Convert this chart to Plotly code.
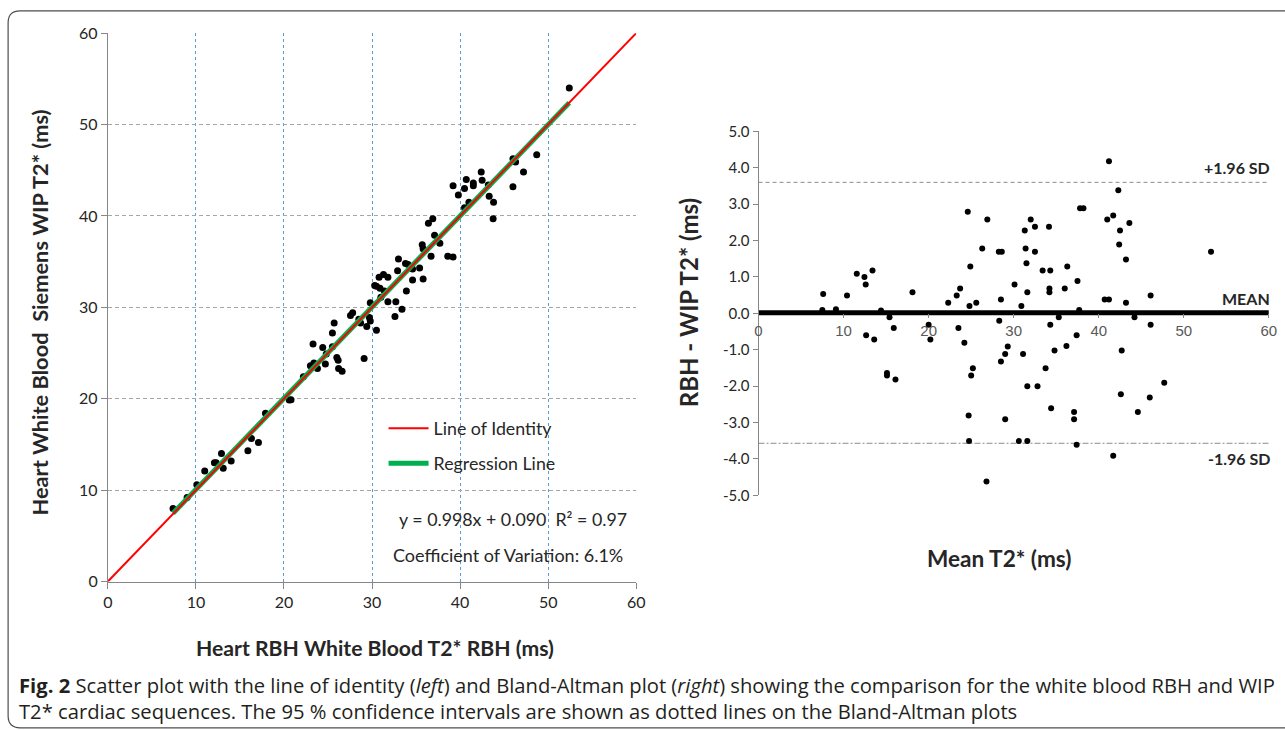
import plotly.graph_objects as go

# ---------------- data ----------------
# Left: scatter of RBH (x) vs WIP (y) T2* values (ms)
left_x = [7.4, 9.0, 10.1, 11.0, 12.1, 12.3, 12.9, 13.1, 14.0, 15.9, 16.3, 17.1, 17.9,
          20.6, 20.8, 22.2, 23.3, 23.0, 23.4, 23.8, 24.4, 24.7, 24.8, 25.5, 25.5, 25.7,
          26.0, 26.15, 26.2, 26.6, 27.55, 27.8, 28.5, 28.7, 29.1, 29.4, 29.7, 29.8, 29.8,
          30.5, 30.3, 30.5, 30.9, 30.8, 31.3, 31.8, 31.0, 31.4, 31.8, 32.6, 32.7, 32.9,
          33.0, 33.4, 33.8, 34.1, 33.9, 34.6, 34.6, 35.4, 35.8, 35.7, 35.8, 36.7, 36.4,
          36.9, 37.1, 37.7, 38.6, 39.2, 39.2, 39.8, 40.5, 41.0, 40.5, 40.7, 41.5, 41.5,
          42.4, 42.5, 43.2, 43.3, 43.8, 43.75, 46.0, 46.3, 46.0, 47.2, 48.7, 52.4]
left_y = [8.0, 9.2, 10.6, 12.1, 13.0, 13.0, 14.0, 12.4, 13.2, 14.3, 15.65, 15.2, 18.4,
          19.85, 19.9, 22.4, 26.0, 23.6, 23.9, 23.3, 25.6, 23.8, 24.9, 25.7, 27.2, 28.3,
          24.5, 24.2, 23.3, 23.0, 29.1, 29.4, 28.7, 28.3, 24.4, 27.9, 28.9, 28.5, 30.5,
          27.5, 32.4, 32.3, 32.1, 33.3, 33.6, 33.3, 31.1, 31.8, 30.6, 29.0, 30.6, 34.0,
          35.3, 29.8, 34.8, 34.7, 31.8, 33.0, 34.2, 34.3, 33.1, 36.85, 36.4, 35.6, 39.2,
          39.7, 37.9, 37.0, 35.6, 35.5, 43.3, 42.3, 40.9, 41.5, 43.0, 44.0, 43.6, 43.3,
          44.8, 43.9, 43.4, 42.15, 41.5, 39.7, 46.25, 45.9, 43.2, 44.8, 46.7, 54.0]

# regression line (from the stated equation) and identity line
reg_slope = 0.998
reg_intercept = 0.090
reg_x = [7.4, 52.4]
identity_xy = [0, 60]

# Right: Bland-Altman (mean vs difference RBH - WIP)
ba_mean = [7.6, 7.5, 9.1, 10.4, 11.55, 12.45, 12.6, 13.4, 14.4, 18.1, 22.3, 23.3, 23.7,
           24.6, 24.9, 24.8, 25.6, 26.3, 26.9, 28.25, 28.6, 28.5, 30.1, 30.9, 31.3, 31.4,
           31.5, 31.6, 32.0, 32.5, 32.5, 33.4, 34.3, 34.15, 34.2, 34.2, 36.0, 36.3, 37.5,
           37.7, 37.8, 38.2, 40.7, 41.2, 41.0, 41.2, 41.7, 42.3, 42.5, 42.4, 43.6, 43.2,
           43.2, 46.1, 53.2,
           15.4, 15.9, 12.65, 13.6, 15.1, 15.1, 16.1, 20.0, 20.2, 23.5, 24.2, 25.2, 25.0,
           24.7, 24.75, 26.8, 28.3, 28.5, 29.0, 29.3, 29.0, 31.1, 31.6, 32.8, 30.6, 31.6,
           33.75, 34.3, 34.8, 34.4, 35.3, 36.2, 37.4, 37.1, 37.1, 37.4, 42.7, 42.6, 41.7,
           44.2, 44.6, 46.1, 46.0, 47.7]
ba_diff = [0.53, 0.09, 0.11, 0.49, 1.09, 1.0, 0.79, 1.18, 0.08, 0.58, 0.29, 0.49, 0.68,
           2.79, 1.29, 0.2, 0.29, 1.78, 2.58, 1.69, 1.69, 0.38, 0.79, 0.2, 2.28, 1.78,
           1.38, 0.58, 2.58, 2.38, 1.69, 1.18, 1.18, 2.38, 0.68, 0.58, 0.68, 1.29, 0.89,
           0.09, 2.89, 2.89, 0.38, 0.38, 2.58, 4.18, 2.69, 3.38, 2.28, 1.89, 2.48, 1.48,
           0.29, 0.49, 1.69,
           -0.11, -0.4, -0.6, -0.72, -1.64, -1.71, -1.82, -0.31, -0.72, -0.4, -0.81, -1.51, -1.71,
           -2.81, -3.51, -4.62, -0.2, -1.32, -1.12, -0.91, -2.91, -1.12, -2.0, -2.0, -3.51, -3.51,
           -1.51, -0.31, -1.02, -2.61, -0.11, -0.9, -0.6, -2.71, -2.91, -3.61, -1.02, -2.22, -3.91,
           -0.11, -2.71, -0.31, -2.31, -1.91]
ba_mean_diff = 0.02
ba_upper = 3.6
ba_lower = -3.57
ba_line_x = [0, 60]

left_ticks = [0, 10, 20, 30, 40, 50, 60]
ba_x_ticks = [0, 10, 20, 30, 40, 50, 60]
ba_y_ticks = [-5, -4, -3, -2, -1, 0, 1, 2, 3, 4, 5]
ba_y_ticktext = ["-5.0", "-4.0", "-3.0", "-2.0", "-1.0", "0.0", "1.0", "2.0", "3.0", "4.0", "5.0"]

caption = ("<b>Fig. 2</b> Scatter plot with the line of identity (<i>left</i>) and Bland-Altman plot "
           "(<i>right</i>) showing the comparison for the white blood RBH and WIP<br>"
           "T2* cardiac sequences. The 95 % confidence intervals are shown as dotted lines "
           "on the Bland-Altman plots")

# ---------------- layout helpers ----------------
# positions below are given in picture pixels; the photographed page maps as
# picture = S * page + O, so convert back before turning them into paper fractions
SX, OX = 0.9867, 5.4
SY, OY = 0.9726, 9.9
FW, FH = 1302, 761
def px(p):
    return ((p - OX) / SX) / FW
def py(p):
    return 1 - ((p - OY) / SY) / FH

CAL = "Lato, Carlito, 'Liberation Sans', sans-serif"
ARIAL = "'Liberation Sans', Arial, sans-serif"
CAP = "'Open Sans', 'Noto Sans', sans-serif"

fig = go.Figure()

# left scatter points
fig.add_trace(go.Scatter(x=left_x, y=left_y, mode="markers",
                         marker=dict(color="black", size=7), showlegend=False,
                         xaxis="x", yaxis="y", hoverinfo="skip"))
# regression line
fig.add_trace(go.Scatter(x=reg_x, y=[reg_slope * v + reg_intercept for v in reg_x],
                         mode="lines", line=dict(color="#00b050", width=5),
                         name="Regression Line", legendgroup="b", legendrank=2,
                         xaxis="x", yaxis="y"))
# identity line
fig.add_trace(go.Scatter(x=identity_xy, y=identity_xy, mode="lines",
                         line=dict(color="#ff0000", width=2),
                         name="Line of Identity", legendgroup="a", legendrank=1,
                         xaxis="x", yaxis="y"))

# right: limits and mean
for val, dash in [(ba_upper, "4px,3px"), (ba_lower, "6px,2px,2px,2px")]:
    fig.add_trace(go.Scatter(x=ba_line_x, y=[val, val], mode="lines",
                             line=dict(color="#8c8c8c", width=1, dash=dash),
                             showlegend=False, xaxis="x2", yaxis="y2", hoverinfo="skip"))
fig.add_trace(go.Scatter(x=ba_line_x, y=[ba_mean_diff, ba_mean_diff], mode="lines",
                         line=dict(color="black", width=5), showlegend=False,
                         xaxis="x2", yaxis="y2", hoverinfo="skip"))
fig.add_trace(go.Scatter(x=ba_mean, y=ba_diff, mode="markers",
                         marker=dict(color="black", size=6), showlegend=False,
                         xaxis="x2", yaxis="y2", hoverinfo="skip"))

axis_grey = "#868686"
fig.update_layout(
    width=FW, height=FH, margin=dict(l=0, r=0, t=0, b=0),
    paper_bgcolor="white", plot_bgcolor="rgba(0,0,0,0)",
    xaxis=dict(domain=[px(108), px(635)], range=[0, 60], anchor="y",
               tickvals=left_ticks, showline=True, linecolor=axis_grey, linewidth=1,
               ticks="outside", ticklen=6, tickcolor=axis_grey,
               showgrid=True, gridcolor="#5b9bd5", griddash="3px,3px", gridwidth=1,
               zeroline=False, tickfont=dict(family=CAL, size=16, color="#262626")),
    yaxis=dict(domain=[py(580), py(33)], range=[0, 60], anchor="x",
               tickvals=left_ticks, showline=True, linecolor=axis_grey, linewidth=1,
               ticks="outside", ticklen=6, tickcolor=axis_grey,
               showgrid=True, gridcolor="#a6a6a6", griddash="4px,3px", gridwidth=1,
               zeroline=False, tickfont=dict(family=CAL, size=16, color="#262626")),
    xaxis2=dict(domain=[px(757), px(1266)], range=[0, 60], anchor="free",
                position=py(312.5), tickvals=ba_x_ticks, showline=False,
                ticks="outside", ticklen=4, tickcolor=axis_grey, showgrid=False,
                zeroline=False, tickfont=dict(family=ARIAL, size=15, color="#595959")),
    yaxis2=dict(domain=[py(494), py(131)], range=[-5, 5], anchor="x2",
                tickvals=ba_y_ticks, ticktext=ba_y_ticktext, showline=True,
                linecolor=axis_grey, linewidth=1, ticks="outside", ticklen=5,
                tickcolor=axis_grey, showgrid=False, zeroline=False,
                tickfont=dict(family=CAL, size=15, color="#262626")),
    legend=dict(x=px(383), y=py(409), xanchor="left", yanchor="top",
                bgcolor="rgba(0,0,0,0)", font=dict(family=CAL, size=17.8, color="#262626"),
                tracegroupgap=9, traceorder="grouped", itemwidth=40),
    showlegend=True,
)

ann = []
def title(text, x, y, size, angle=0):
    return dict(text="<b>" + text + "</b>", x=px(x), y=py(y), xref="paper", yref="paper",
                xanchor="center", yanchor="middle", showarrow=False, textangle=angle,
                font=dict(family=CAL, size=size, color="#262626"))
# axis titles
ann.append(title("Heart RBH White Blood T2* RBH (ms)", 374, 646, 21.2))
ann.append(title("Heart White Blood \u00a0Siemens WIP T2* (ms)", 40, 312, 21.8, -90))
ann.append(title("Mean T2* (ms)", 997, 557, 22.6))
ann.append(title("RBH - WIP T2* (ms)", 687, 302, 24, -90))
# statistics text
ann.append(dict(text="y = 0.998x + 0.090  R\u00b2 = 0.97", x=46.0, y=6.8, xref="x", yref="y",
                xanchor="center", yanchor="middle",
                showarrow=False, font=dict(family=CAL, size=17.8, color="#262626")))
ann.append(dict(text="Coefficient of Variation: 6.1%", x=45.4, y=2.85, xref="x", yref="y",
                xanchor="center", yanchor="middle",
                showarrow=False, font=dict(family=CAL, size=18, color="#262626")))
# Bland-Altman labels
for label, val, shift in [("+1.96 SD", ba_upper, 15), ("MEAN", ba_mean_diff, 14), ("-1.96 SD", ba_lower, -15)]:
    ann.append(dict(text="<b>" + label + "</b>", x=60, y=val, xref="x2", yref="y2",
                    xanchor="right", yanchor="middle", yshift=shift, xshift=3, showarrow=False,
                    font=dict(family=CAL, size=16, color="#262626")))
# caption
ann.append(dict(text=caption, x=px(17), y=py(667), xref="paper", yref="paper",
                xanchor="left", yanchor="top", align="left", showarrow=False,
                font=dict(family=CAP, size=20.2, color="#231f20")))
fig.update_layout(annotations=ann)

# rounded frame around the figure (open on the right, where it leaves the picture)
x0, y0, x1, y1, r = 8.5, 10.8, 1320, 726, 12
path = (f"M {px(x1)},{py(y0)} L {px(x0 + r)},{py(y0)} "
        f"Q {px(x0)},{py(y0)} {px(x0)},{py(y0 + r)} L {px(x0)},{py(y1 - r)} "
        f"Q {px(x0)},{py(y1)} {px(x0 + r)},{py(y1)} L {px(x1)},{py(y1)}")
fig.add_shape(type="path", path=path, xref="paper", yref="paper",
              line=dict(color="#4d4d4d", width=1.2))

fig.write_html("out.html", config={"responsive": False, "displayModeBar": False},
               post_script="document.body.style.margin='0';document.body.style.overflow='hidden';")
